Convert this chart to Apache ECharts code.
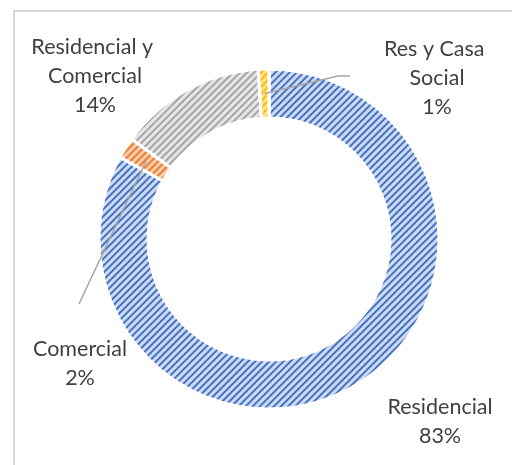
<!DOCTYPE html>
<html>
<head>
    <meta charset="utf-8" />
    <title>Donut</title>
    <script src="https://cdn.jsdelivr.net/npm/echarts@6/dist/echarts.min.js"></script>
    <style>
        html, body { margin: 0; padding: 0; background: #fff; }
        #main { width: 512px; height: 465px; }
    </style>
</head>
<body>
    <div id="main"></div>
    <script type="text/javascript">
        // datos
        var categories = ['Residencial', 'Comercial', 'Residencial y Comercial', 'Res y Casa Social'];
        var values = [83, 2, 14, 1];

        var fills = ['#cfdbf1', '#f8cdad', '#e6e6e6', '#ffe08a'];
        var stripes = ['#4472c4', '#ed7d31', '#a5a5a5', '#ffc000'];
        // posicion de las etiquetas y codo de la linea guia
        var labelPos = [[440, 422], [80, 364], [95, 76], [437, 78]];
        var lineEnd = [null, [[79, 304]], null, [[338, 76], [350, 76]]];

        var cx = 269, cy = 239, rIn = 121, rOut = 170;

        var total = values.reduce(function (a, b) { return a + b; }, 0);
        function midPoint(i) {
            var before = 0;
            for (var k = 0; k < i; k++) before += values[k];
            var a = (before + values[i] / 2) / total * Math.PI * 2;
            var r = (rIn + rOut) / 2;
            return [cx + r * Math.sin(a), cy - r * Math.cos(a)];
        }

        var data = categories.map(function (name, i) {
            return {
                name: name,
                value: values[i],
                itemStyle: {
                    color: fills[i],
                    decal: {
                        symbol: 'rect',
                        symbolSize: 1,
                        dashArrayX: [1, 0],
                        dashArrayY: [1.5, 2.5],
                        rotation: -Math.PI / 4,
                        color: stripes[i]
                    }
                }
            };
        });

        // lineas guia encima del anillo
        var guides = [];
        lineEnd.forEach(function (pts, i) {
            if (!pts) return;
            guides.push({
                type: 'polyline',
                z: 100,
                shape: { points: [midPoint(i)].concat(pts) },
                style: { fill: 'none', stroke: '#a6a6a6', lineWidth: 1.5 }
            });
        });

        var myChart = echarts.init(document.getElementById('main'));
        var option = {
            animation: false,
            backgroundColor: '#fff',
            graphic: [{
                type: 'rect',
                shape: { x: 14, y: 11, width: 600, height: 600 },
                style: { fill: 'none', stroke: '#d9d9d9', lineWidth: 2 }
            }].concat(guides),
            series: [{
                type: 'pie',
                center: [cx, cy],
                radius: [rIn, rOut],
                startAngle: 90,
                clockwise: true,
                avoidLabelOverlap: false,
                itemStyle: { borderColor: '#fff', borderWidth: 3 },
                label: {
                    show: true,
                    position: 'outside',
                    formatter: '{b}\n{d}%',
                    width: 130,
                    overflow: 'break',
                    align: 'center',
                    color: '#404040',
                    fontFamily: 'Lato',
                    fontSize: 21.5,
                    lineHeight: 29
                },
                labelLine: { show: false },
                labelLayout: function (p) {
                    var i = p.dataIndex;
                    return {
                        x: labelPos[i][0],
                        y: labelPos[i][1],
                        align: 'center',
                        verticalAlign: 'middle'
                    };
                },
                data: data
            }]
        };
        myChart.setOption(option);
    </script>
</body>
</html>
